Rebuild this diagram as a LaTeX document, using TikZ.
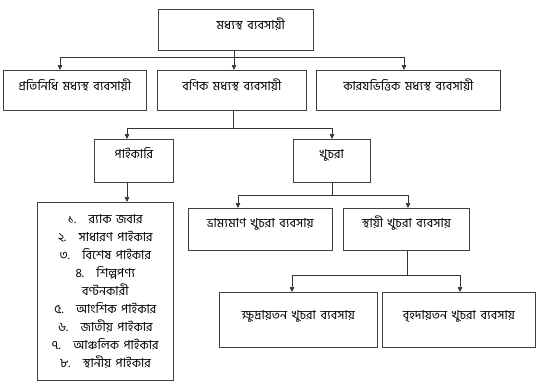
\documentclass[tikz,border=0pt]{standalone}
\usepackage{fontspec}
\newfontfamily\bn[Script=Bengali,WordSpace=1.6]{Hind Siliguri}
\usetikzlibrary{arrows.meta}

\begin{document}
\begin{tikzpicture}[
    x=1bp, y=-1bp,
    blk/.style={draw=black!75,line width=0.7pt,inner sep=0pt,
                anchor=north west,font=\bn\fontsize{12.5}{18}\selectfont},
    arr/.style={-{Triangle[length=5pt,width=4.5pt]},line width=0.7pt,draw=black!80},
    ln/.style={line width=0.7pt,draw=black!80}
]
  \useasboundingbox (0,0) rectangle (540,388);

  % Top
  \node[blk,minimum width=155bp,text height=20bp,text depth=21bp] (top) at (158,9) {\hspace*{30bp}মধ্যস্থ ব্যবসায়ী};

  % Three kinds
  \node[blk,minimum width=143bp,text height=20bp,text depth=20bp] (prot) at (3,70) {প্রতিনিধি মধ্যস্থ ব্যবসায়ী};
  \node[blk,minimum width=149bp,text height=20bp,text depth=20bp] (bonik) at (157,70) {বণিক মধ্যস্থ ব্যবসায়ী};
  \node[blk,minimum width=184bp,text height=20bp,text depth=20bp] (karj) at (316,70) {কারযভিত্তিক মধ্যস্থ ব্যবসায়ী};

  \coordinate (j1) at (234,57);
  \coordinate (b1) at (60,57);
  \coordinate (b3) at (404,57);
  \draw[ln] (j1 |- top.south) -- (j1);
  \draw[ln] (b1) -- (b3);
  \draw[arr] (b1) -- (b1 |- prot.north);
  \draw[arr] (j1) -- (j1 |- bonik.north);
  \draw[arr] (b3) -- (b3 |- karj.north);

  % Wholesale and retail
  \node[blk,minimum width=79bp,text height=19bp,text depth=24bp] (paik) at (94,139) {পাইকারি};
  \node[blk,minimum width=77bp,text height=19bp,text depth=24bp] (khuc) at (293,139) {খুচরা};

  \coordinate (j2) at (233,128);
  \coordinate (b4) at (127,128);
  \coordinate (b5) at (332,128);
  \draw[ln] (j2 |- bonik.south) -- (j2);
  \draw[ln] (b4) -- (b5);
  \draw[arr] (b4) -- (b4 |- paik.north);
  \draw[arr] (b5) -- (b5 |- khuc.north);

  % List of wholesalers
  \node[blk,align=center,minimum width=136bp,minimum height=178bp] (list) at (37,202)
    {১.\quad র^^^^200d্যাক জবার\\
     ২.\quad সাধারণ পাইকার\\
     ৩.\quad বিশেষ পাইকার\\
     ৪.\quad শিল্পপণ্য\\
     বণ্টনকারী\\
     ৫.\quad আংশিক পাইকার\\
     ৬.\quad জাতীয় পাইকার\\
     ৭.\quad আঞ্চলিক পাইকার\\
     ৮.\quad স্থানীয় পাইকার};
  \draw[arr] (paik.south -| b4) -- (b4 |- list.north);

  % Retail kinds
  \node[blk,minimum width=144bp,text height=19bp,text depth=23bp] (bhram) at (188,208) {ভ্রাম্যমাণ খুচরা ব্যবসায়};
  \node[blk,minimum width=126bp,text height=19bp,text depth=23bp] (sthay) at (343,208) {স্থায়ী খুচরা ব্যবসায়};

  \coordinate (b6) at (238,195);
  \coordinate (b7) at (408,195);
  \draw[ln] (khuc.south -| b5) -- (b5 |- b6);
  \draw[ln] (b6) -- (b7);
  \draw[arr] (b6) -- (b6 |- bhram.north);
  \draw[arr] (b7) -- (b7 |- sthay.north);

  % Fixed retail
  \node[blk,minimum width=158bp,text height=27bp,text depth=28bp] (khud) at (219,292) {ক্ষুদ্রায়তন খুচরা ব্যবসায়};
  \node[blk,minimum width=153bp,text height=27bp,text depth=28bp] (brih) at (382,292) {বৃহদায়তন খুচরা ব্যবসায়};

  \coordinate (j3) at (407,275);
  \coordinate (b8) at (292,275);
  \coordinate (b9) at (460,275);
  \draw[ln] (j3 |- sthay.south) -- (j3);
  \draw[ln] (b8) -- (b9);
  \draw[arr] (b8) -- (b8 |- khud.north);
  \draw[arr] (b9) -- (b9 |- brih.north);
\end{tikzpicture}
\end{document}
